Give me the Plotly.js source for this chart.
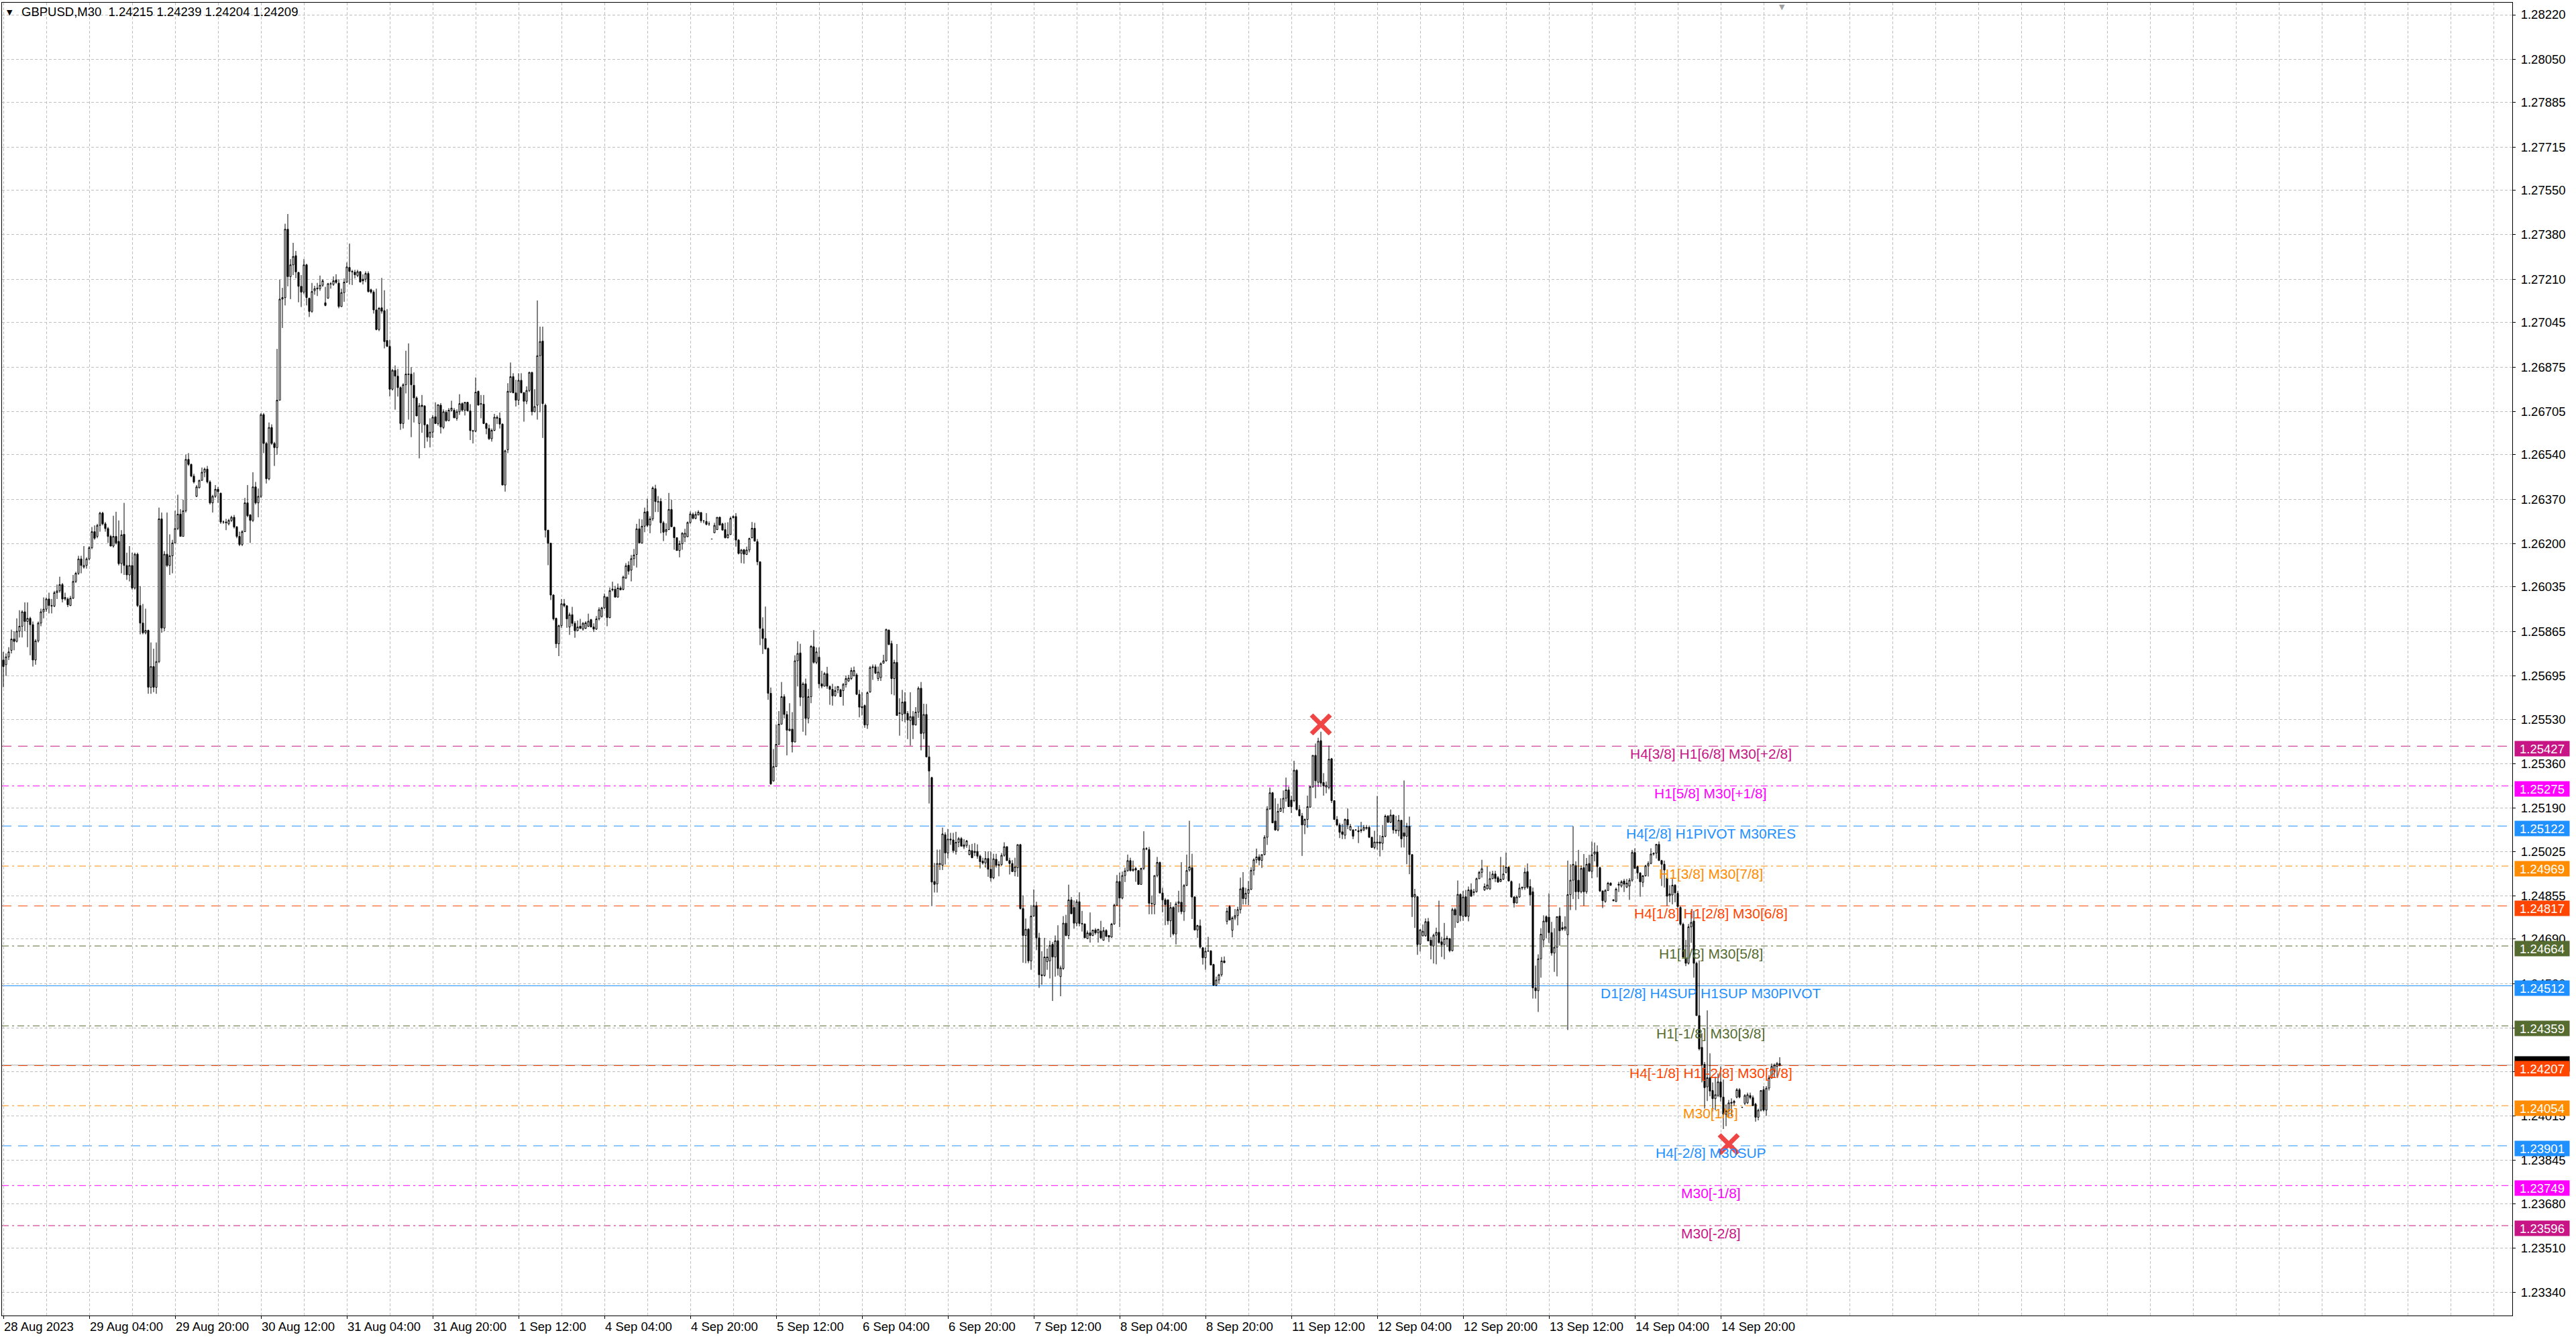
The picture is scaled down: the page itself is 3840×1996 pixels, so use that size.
<!DOCTYPE html>
<html><head><meta charset="utf-8">
<script src="https://cdn.plot.ly/plotly-3.0.1.min.js"></script>
<style>html,body{margin:0;padding:0;background:#fff;overflow:hidden}#chart{width:3840px;height:1996px}</style>
</head><body><div id="chart"></div>
<script>
// ---- DATA (prices in points, 1 point = 0.00001) ----
const symbolTitle = "GBPUSD,M30  1.24215 1.24239 1.24204 1.24209";
const POINT = 0.00001;
const openPts = [
125756,125738,125768,125793,125836,125827,125866,125885,125940,125903,
125915,125891,125756,125829,125897,125940,125950,125989,125964,125962,
126013,126020,126044,125989,125989,125964,125992,126056,126087,126142,
126111,126117,126142,126185,126246,126228,126270,126317,126276,126258,
126228,126191,126228,126209,126124,126236,126117,126081,126117,126031,
126160,125964,125897,125860,125869,125652,125731,125652,125750,126295,
125878,126160,126117,126154,126203,126258,126313,126228,126326,126522,
126503,126458,126381,126414,126442,126473,126485,126436,126356,126381,
126408,126393,126283,126283,126276,126289,126301,126264,126228,126197,
126246,126356,126310,126289,126417,126356,126381,126693,126583,126448,
126644,126583,126567,126748,127134,127140,127401,127220,127265,127300,
127236,127183,127161,127265,127137,127087,127166,127173,127174,127187,
127120,127138,127193,127190,127207,127195,127106,127159,127199,127255,
127240,127237,127224,127239,127210,127210,127232,127170,127161,127093,
127018,127101,127090,126976,126954,126790,126862,126840,126796,126659,
126807,126846,126848,126805,126757,126659,126729,126726,126654,126607,
126626,126685,126659,126729,126644,126702,126670,126710,126710,126679,
126704,126735,126710,126740,126707,126632,126630,126782,126735,126733,
126659,126640,126601,126633,126683,126679,126657,126424,126559,126779,
126838,126776,126748,126824,126777,126744,126785,126854,126704,126729,
126918,126974,126729,126252,126202,126004,125915,125818,125887,125971,
125963,125882,125929,125896,125868,125885,125874,125877,125885,125910,
125882,125874,125913,125922,125955,125996,125918,126027,126026,125996,
126031,126026,126069,126118,126099,126143,126159,126257,126203,126267,
126323,126271,126295,126410,126361,126362,126280,126246,126254,126331,
126263,126223,126174,126200,126225,126227,126281,126312,126297,126310,
126319,126287,126285,126276,126218,126242,126254,126301,126276,126254,
126223,126235,126300,126304,126214,126163,126177,126159,126176,126223,
126259,126208,126131,125875,125838,125800,125629,125294,125349,125434,
125511,125616,125548,125486,125492,125443,125753,125783,125614,125665,
125533,125616,125807,125747,125767,125665,125656,125704,125655,125644,
125620,125642,125642,125639,125662,125676,125685,125696,125699,125625,
125578,125582,125508,125634,125727,125730,125685,125689,125744,125753,
125870,125819,125685,125747,125554,125548,125597,125552,125525,125540,
125508,125557,125648,125477,125548,125386,125307,124910,124901,124975,
124972,125089,125019,125072,125069,125025,125060,125074,125043,125048,
125013,125028,125025,125025,125007,124988,124981,124998,124957,124924,
124995,124975,124975,125010,125043,124990,124979,124948,124963,125051,
124807,124704,124728,124607,124778,124818,124695,124554,124551,124604,
124607,124670,124622,124684,124547,124578,124751,124704,124840,124811,
124751,124833,124750,124748,124692,124714,124704,124725,124714,124721,
124686,124723,124704,124698,124748,124820,124910,124847,124933,124951,
124990,124952,124960,124952,124899,124960,125034,125032,124825,124822,
124933,124983,124866,124840,124840,124760,124811,124710,124827,124831,
124795,124895,124954,124963,124851,124725,124741,124657,124619,124644,
124645,124593,124514,124534,124554,124607,124758,124814,124724,124771,
124780,124803,124887,124845,124865,124880,124953,124993,125004,124991,
125013,125079,125187,125249,125141,125107,125178,125190,125228,125260,
125221,125219,125335,125185,125161,125126,125147,125194,125271,125392,
125289,125448,125288,125271,125269,125379,125219,125147,125126,125100,
125087,125147,125107,125107,125107,125104,125104,125107,125113,125117,
125079,125040,125057,125061,125056,125083,125160,125136,125164,125107,
125104,125144,125096,125083,125121,125013,124851,124852,124671,124703,
124703,124757,124686,124664,124705,124716,124680,124669,124694,124692,
124646,124803,124754,124861,124777,124852,124777,124878,124868,124871,
124921,124945,124878,124882,124882,124921,124939,124925,124910,124919,
124945,124965,124910,124851,124828,124851,124885,124886,124948,124891,
124871,124504,124493,124615,124687,124776,124774,124715,124637,124659,
124778,124734,124729,124707,124860,124915,124971,124915,124871,124963,
124871,124979,124949,125015,125023,124963,124874,124834,124876,124904,
124837,124834,124896,124893,124912,124889,124893,124915,125021,124967,
124943,124907,124932,124970,124979,125015,125018,125052,124990,124976,
124923,124856,124859,124896,124865,124811,124747,124615,124598,124737,
124759,124598,124398,124277,124212,124126,124161,124112,124081,124093,
124145,124087,124021,124034,124063,124065,124087,124115,124048,124063,
124065,124093,124085,124060,124010,124037,124115,124037,124121,124160,
124187,124204,124215];
const highPts = [
125787,125781,125805,125872,125866,125915,125946,125946,125976,125976,
125921,125903,125836,125903,125952,125995,125995,126013,125989,126020,
126044,126074,126050,126013,125995,126001,126081,126093,126154,126154,
126191,126148,126191,126264,126270,126276,126322,126322,126283,126264,
126234,126307,126322,126289,126252,126356,126166,126191,126166,126166,
126166,126038,125970,125952,125872,125823,125799,125823,126338,126319,
126172,126319,126236,126215,126326,126387,126332,126368,126540,126546,
126506,126467,126424,126444,126491,126491,126497,126442,126387,126424,
126417,126395,126289,126295,126295,126307,126310,126268,126246,126252,
126375,126424,126313,126473,126436,126411,126699,126699,126589,126663,
126656,126589,126944,127208,127177,127422,127459,127287,127349,127318,
127238,127226,127287,127269,127140,127196,127185,127196,127224,127210,
127181,127196,127199,127221,127229,127210,127174,127213,127274,127346,
127246,127246,127246,127241,127229,127240,127240,127174,127168,127174,
127104,127215,127168,127096,126979,126868,126881,126868,126801,126813,
126937,126965,126874,126854,126763,126737,126768,126729,126657,126679,
126692,126740,126731,126737,126713,126710,126718,126746,126718,126713,
126771,126740,126740,126742,126733,126635,126835,126785,126768,126768,
126662,126655,126640,126696,126690,126701,126659,126559,126813,126892,
126851,126826,126851,126851,126779,126801,126857,126857,126790,127129,
127029,127029,126735,126252,126204,126007,125918,125891,125989,125989,
125966,125937,125959,125904,125907,125913,125901,125904,125933,125913,
125896,125924,125957,125959,126010,125999,126033,126055,126039,126048,
126039,126078,126126,126133,126157,126180,126276,126295,126293,126338,
126372,126305,126419,126425,126382,126374,126287,126278,126394,126368,
126265,126225,126212,126244,126257,126285,126323,126319,126323,126328,
126321,126291,126317,126285,126219,126280,126301,126304,126280,126280,
126282,126304,126308,126317,126218,126180,126180,126189,126223,126283,
126280,126218,126133,125919,125960,125804,125651,125416,125510,125561,
125672,125625,125561,125591,125557,125774,125827,125818,125672,125685,
125646,125813,125870,125804,125804,125715,125710,125730,125659,125665,
125655,125655,125646,125668,125697,125699,125727,125731,125706,125642,
125634,125586,125636,125733,125739,125739,125731,125747,125776,125875,
125873,125830,125757,125817,125610,125642,125633,125561,125633,125561,
125576,125655,125672,125589,125588,125429,125310,124981,125032,125032,
125116,125098,125111,125096,125096,125100,125080,125080,125072,125069,
125050,125054,125057,125052,125013,125001,125025,125025,125025,125016,
125016,124988,125019,125060,125045,125001,124992,125001,125052,125054,
124857,124769,124732,124820,124880,124833,124714,124644,124695,124654,
124684,124679,124704,124743,124589,124778,124783,124898,124851,124838,
124842,124869,124798,124750,124723,124792,124725,124732,124728,124760,
124736,124728,124706,124752,124825,124935,124944,124948,124963,125013,
125001,124990,124966,124954,124963,125102,125041,125042,124857,124933,
125004,124986,124886,124847,124842,124831,124816,124833,124875,124984,
124900,125013,125142,125016,124854,124745,124765,124660,124658,124699,
124648,124596,124547,124558,124622,124624,124810,124820,124777,124805,
124814,124925,124946,124886,124912,124965,124999,125036,125014,125013,
125087,125198,125269,125252,125228,125207,125228,125258,125307,125272,
125238,125371,125339,125202,125172,125151,125238,125277,125392,125437,
125459,125482,125324,125292,125429,125382,125221,125160,125134,125130,
125151,125189,125130,125110,125109,125121,125138,125126,125126,125124,
125081,125104,125237,125087,125126,125166,125164,125185,125166,125161,
125164,125144,125296,125134,125158,125015,124882,124854,124726,124746,
124769,124771,124699,124711,124734,124837,124699,124752,124703,124694,
124810,124810,124914,124865,124874,124878,124891,124903,124882,124925,
124951,124993,124903,124968,124948,124951,124951,124931,125004,124972,
125021,124968,124914,124854,124857,124903,124891,124963,124979,124919,
124887,124589,124632,124732,124781,124781,124865,124756,124732,124776,
124811,124756,124777,124990,124976,125121,124987,125031,124971,125015,
125000,125012,125063,125059,125048,124967,124876,124881,124909,124907,
124843,124887,124909,124915,124920,124920,124923,125031,125037,124971,
124945,124935,124974,124987,125037,125021,125054,125063,124993,124990,
124926,124896,124920,124900,124874,124815,124753,124687,124748,124798,
124798,124604,124609,124331,124221,124418,124254,124143,124165,124177,
124204,124154,124059,124076,124082,124076,124121,124121,124050,124098,
124104,124104,124093,124065,124043,124112,124129,124129,124171,124215,
124215,124221,124239];
const lowPts = [
125652,125695,125756,125781,125793,125823,125842,125842,125866,125805,
125774,125731,125738,125823,125885,125915,125940,125934,125934,125958,
125989,126013,125976,125983,125958,125962,125989,126050,126081,126087,
126105,126105,126136,126179,126215,126221,126246,126270,126246,126203,
126191,126185,126197,126117,126087,126081,126062,126056,126025,126025,
125958,125854,125854,125854,125627,125627,125633,125627,125744,125860,
125866,126111,126081,126087,126203,126252,126228,126228,126319,126497,
126454,126430,126378,126411,126440,126454,126430,126350,126319,126375,
126356,126276,126276,126252,126270,126283,126258,126221,126191,126191,
126246,126301,126203,126283,126350,126301,126375,126546,126430,126442,
126577,126497,126540,126748,127024,127110,127183,127134,127226,127214,
127122,127104,127153,127110,127066,127082,127151,127146,127166,127181,
127107,127135,127174,127185,127193,127099,127104,127124,127196,127190,
127188,127213,127218,127199,127190,127199,127159,127155,127079,127015,
127012,127079,126946,126951,126762,126785,126712,126762,126635,126640,
126774,126674,126607,126663,126688,126526,126624,126565,126590,126568,
126604,126657,126651,126621,126638,126666,126668,126704,126679,126670,
126692,126704,126690,126707,126596,126583,126626,126729,126679,126657,
126618,126596,126590,126630,126657,126640,126424,126399,126546,126777,
126776,126724,126729,126774,126666,126733,126779,126690,126702,126674,
126702,126604,126224,126118,125985,125907,125802,125771,125879,125957,
125879,125852,125885,125841,125866,125874,125868,125874,125882,125882,
125863,125871,125907,125918,125951,125885,125915,126018,125996,125995,
126022,126022,126065,126082,126056,126116,126109,126201,126201,126244,
126263,126240,126287,126321,126321,126240,126210,126231,126252,126265,
126177,126174,126148,126177,126206,126225,126276,126293,126293,126308,
126280,126278,126270,126268,126217,126240,126252,126270,126252,126220,
126220,126234,126295,126189,126159,126126,126124,126157,126167,126220,
126208,126118,125813,125779,125798,125604,125279,125292,125347,125432,
125510,125533,125392,125484,125403,125441,125655,125580,125482,125468,
125514,125591,125742,125740,125648,125648,125655,125646,125585,125582,
125616,125629,125616,125582,125651,125672,125680,125693,125622,125537,
125544,125497,125493,125631,125680,125702,125676,125676,125742,125750,
125813,125625,125621,125544,125467,125522,125518,125454,125429,125454,
125506,125535,125411,125454,125385,125208,124816,124868,124868,124954,
124954,124975,124999,125050,125019,125013,125041,125045,125034,125039,
125010,124999,125007,124997,124960,124975,124963,124928,124910,124919,
124963,124930,124970,125005,124990,124937,124946,124930,124928,124803,
124600,124598,124598,124573,124776,124648,124504,124516,124547,124573,
124540,124454,124547,124551,124472,124573,124701,124690,124786,124730,
124739,124739,124719,124695,124690,124677,124701,124707,124677,124690,
124684,124697,124679,124695,124745,124818,124736,124842,124908,124948,
124948,124948,124909,124898,124898,124954,125030,124785,124785,124785,
124926,124866,124792,124743,124745,124697,124704,124670,124792,124785,
124760,124893,124948,124767,124723,124695,124654,124593,124573,124642,
124591,124512,124510,124520,124547,124600,124746,124763,124697,124763,
124743,124788,124822,124822,124820,124878,124934,124980,124972,124962,
125010,125050,125185,125134,125104,125102,125177,125172,125215,125195,
125172,125213,125181,125160,125008,125091,125115,125192,125269,125228,
125271,125271,125238,125247,125262,125210,125147,125121,125076,125072,
125072,125110,125104,125072,125104,125057,125096,125102,125108,125076,
125040,125033,125032,125006,125030,125079,125134,125134,125093,125093,
125083,125040,125040,124976,124938,124775,124733,124630,124643,124700,
124699,124683,124613,124597,124594,124673,124622,124613,124660,124640,
124643,124733,124752,124758,124760,124774,124758,124851,124857,124868,
124919,124925,124874,124880,124878,124919,124908,124905,124908,124916,
124942,124912,124848,124811,124827,124848,124878,124878,124882,124818,
124463,124463,124412,124543,124659,124693,124676,124627,124565,124548,
124665,124722,124721,124343,124801,124843,124801,124843,124865,124818,
124863,124949,124923,124987,124926,124870,124809,124829,124874,124893,
124834,124832,124870,124887,124870,124885,124840,124909,124960,124920,
124852,124889,124929,124929,124976,125009,124998,124990,124893,124887,
124818,124831,124823,124831,124809,124742,124620,124587,124593,124676,
124543,124398,124265,124143,124043,124072,124090,124032,124037,124087,
124070,123965,123976,124010,124015,124054,124082,124082,124046,124056,
124060,124078,124054,123993,123998,124032,124032,124015,124112,124157,
124160,124165,124204];
const closePts = [
125731,125768,125787,125836,125827,125866,125885,125940,125903,125915,
125891,125756,125829,125897,125940,125950,125989,125964,125962,126013,
126020,126044,125989,125995,125967,125992,126056,126087,126142,126117,
126117,126142,126185,126246,126221,126270,126317,126276,126258,126228,
126191,126228,126203,126124,126234,126117,126081,126117,126031,126160,
125964,125897,125860,125869,125652,125731,125652,125750,126295,125878,
126160,126117,126154,126203,126258,126313,126228,126326,126522,126503,
126458,126436,126417,126442,126473,126485,126436,126356,126381,126408,
126399,126283,126283,126280,126289,126301,126264,126228,126197,126246,
126356,126307,126289,126417,126356,126381,126693,126583,126448,126644,
126583,126567,126748,127134,127140,127401,127220,127265,127297,127238,
127183,127161,127265,127140,127087,127163,127174,127176,127187,127204,
127110,127193,127192,127204,127198,127106,127159,127199,127257,127240,
127238,127227,127239,127199,127204,127232,127163,127161,127093,127018,
127099,127088,126972,126954,126790,126862,126840,126796,126659,126807,
126848,126848,126807,126757,126688,126727,126724,126654,126607,126626,
126683,126659,126731,126646,126704,126670,126710,126718,126681,126704,
126735,126710,126740,126707,126632,126630,126779,126729,126733,126659,
126640,126601,126633,126683,126679,126657,126424,126555,126782,126838,
126776,126748,126824,126777,126744,126785,126854,126704,126724,126918,
126972,126735,126252,126202,126004,125913,125818,125887,125971,125963,
125913,125929,125896,125868,125882,125877,125896,125898,125904,125882,
125874,125913,125948,125955,125999,125918,126021,126024,125996,126031,
126024,126073,126116,126095,126143,126157,126257,126203,126267,126321,
126270,126295,126413,126361,126359,126280,126244,126254,126331,126265,
126223,126174,126200,126240,126240,126281,126314,126297,126312,126321,
126288,126287,126274,126276,126218,126270,126301,126271,126252,126223,
126235,126297,126304,126214,126163,126176,126160,126176,126220,126259,
126210,126131,125877,125838,125798,125629,125283,125349,125434,125511,
125616,125548,125488,125492,125443,125753,125781,125614,125665,125533,
125616,125808,125747,125787,125665,125656,125704,125656,125644,125619,
125639,125655,125616,125663,125685,125687,125716,125716,125625,125576,
125574,125508,125631,125727,125730,125706,125710,125742,125753,125873,
125815,125685,125747,125544,125552,125595,125551,125527,125540,125508,
125557,125648,125475,125548,125386,125332,124908,124899,124979,124979,
125092,125019,125072,125069,125028,125060,125074,125045,125050,125065,
125030,125001,125021,125007,124986,124981,124998,124957,124924,124997,
124972,124972,125010,125043,124990,124979,124948,124966,125051,124807,
124704,124728,124607,124778,124818,124695,124554,124551,124622,124622,
124666,124622,124684,124578,124580,124751,124704,124840,124787,124751,
124833,124750,124748,124695,124714,124704,124725,124714,124728,124695,
124723,124701,124698,124748,124820,124910,124847,124933,124951,124990,
124952,124957,124954,124899,124960,125036,125036,124827,124827,124933,
124983,124866,124840,124822,124760,124811,124710,124825,124833,124795,
124895,124952,124966,124851,124725,124742,124660,124619,124644,124645,
124591,124514,124534,124554,124607,124600,124797,124763,124771,124780,
124803,124882,124845,124865,124880,124953,124993,125004,124991,125013,
125079,125187,125249,125134,125107,125178,125190,125228,125260,125196,
125196,125335,125185,125161,125126,125147,125196,125272,125392,125295,
125446,125286,125275,125277,125377,125219,125147,125126,125098,125090,
125147,125126,125121,125083,125107,125100,125108,125117,125117,125079,
125040,125061,125061,125056,125083,125160,125136,125164,125107,125104,
125144,125073,125083,125121,125013,124851,124861,124669,124726,124720,
124757,124683,124666,124705,124716,124677,124669,124692,124690,124646,
124803,124782,124861,124780,124851,124777,124878,124854,124871,124921,
124945,124959,124891,124897,124921,124939,124922,124908,124919,124939,
124965,124912,124851,124828,124851,124885,124888,124946,124888,124859,
124504,124493,124615,124709,124759,124756,124715,124637,124659,124776,
124722,124728,124737,124860,124915,124976,124871,124871,124960,124871,
124976,124949,125012,125023,124967,124874,124837,124876,124904,124896,
124840,124881,124900,124909,124900,124904,124915,125021,124960,124943,
124909,124932,124970,124979,125015,125018,125052,124990,124976,124954,
124854,124863,124896,124867,124815,124747,124621,124598,124737,124754,
124598,124398,124271,124210,124123,124161,124110,124081,124096,124145,
124087,124021,124034,124065,124067,124071,124115,124087,124048,124093,
124096,124085,124054,124010,124037,124112,124037,124121,124160,124204,
124209,124215,124209];

const xTickBars = [0,32,64,96,128,160,192,224,256,288,320,352,384,416,448,480,512,544,576,608,640];
const xTickLabels = ["28 Aug 2023","29 Aug 04:00","29 Aug 20:00","30 Aug 12:00","31 Aug 04:00","31 Aug 20:00","1 Sep 12:00","4 Sep 04:00","4 Sep 20:00","5 Sep 12:00","6 Sep 04:00","6 Sep 20:00","7 Sep 12:00","8 Sep 04:00","8 Sep 20:00","11 Sep 12:00","12 Sep 04:00","12 Sep 20:00","13 Sep 12:00","14 Sep 04:00","14 Sep 20:00"];
const yTickValues = [1.28220,1.28050,1.27885,1.27715,1.27550,1.27380,1.27210,1.27045,1.26875,1.26705,1.26540,1.26370,1.26200,1.26035,1.25865,1.25695,1.25530,1.25360,1.25190,1.25025,1.24855,1.24690,1.24520,1.24350,1.24185,1.24015,1.23845,1.23680,1.23510,1.23340];

const levelPrices = [1.25427,1.25275,1.25122,1.24969,1.24817,1.24664,1.24512,1.24359,1.24207,1.24054,1.23901,1.23749,1.23596];
const levelLabels = ["H4[3/8] H1[6/8] M30[+2/8]","H1[5/8] M30[+1/8]","H4[2/8] H1PIVOT M30RES","H1[3/8] M30[7/8]","H4[1/8] H1[2/8] M30[6/8]","H1[1/8] M30[5/8]","D1[2/8] H4SUP H1SUP M30PIVOT","H1[-1/8] M30[3/8]","H4[-1/8] H1[-2/8] M30[2/8]","M30[1/8]","H4[-2/8] M30SUP","M30[-1/8]","M30[-2/8]"];
const bidPrice = 1.24209;
const signalBars = [491, 643];
const signalPrices = [1.25510, 1.23907];

// ---- STYLE ----
const levelColors = ["#C71585","#FF00FF","#1E90FF","#FF8C00","#FF4500","#556B2F","#1E90FF","#556B2F","#FF4500","#FF8C00","#1E90FF","#FF00FF","#C71585"];
const DASH = "14px,10px", DASHDOT = "10px,5px,3px,5px";
const levelDash = [DASH,DASHDOT,DASH,DASHDOT,DASH,DASHDOT,"solid",DASHDOT,DASH,DASHDOT,DASH,DASHDOT,DASHDOT];
const FONT = "Liberation Sans, Arial, sans-serif";
const GRID = "#C0C0C0", GRIDDASH = "4px,3px";
const LABEL_BAR = 636.25;

const n = Math.min(openPts.length, highPts.length, lowPts.length, closePts.length);
const xs = [], o = [], h = [], l = [], c = [];
for (let i = 0; i < n; i++) {
  xs.push(i); o.push(openPts[i]*POINT); h.push(highPts[i]*POINT); l.push(lowPts[i]*POINT); c.push(closePts[i]*POINT);
}

const traces = [
  {type:'candlestick', x:xs, open:o, high:h, low:l, close:c, whiskerwidth:0,
   increasing:{line:{color:'#000',width:1}, fillcolor:'#FFFFFF'},
   decreasing:{line:{color:'#000',width:1}, fillcolor:'#000000'},
   hoverinfo:'skip', showlegend:false},
  {type:'scatter', mode:'markers', x:signalBars, y:signalPrices, showlegend:false, hoverinfo:'skip',
   marker:{symbol:'x-thin', size:28, color:'#F04545', line:{width:7, color:'#F04545'}}}
];

const shapes = [];
const annotations = [];
shapes.push({type:'line', xref:'paper', x0:0, x1:1, yref:'y', y0:bidPrice, y1:bidPrice, layer:'between',
             line:{color:'#A9A9A9', width:1}});
levelPrices.forEach((p, k) => {
  shapes.push({type:'line', xref:'paper', x0:0, x1:1, yref:'y', y0:p, y1:p, layer:'between',
               line:{color:levelColors[k], width:1, dash:levelDash[k]}});
  annotations.push({xref:'x', x:LABEL_BAR, yref:'y', y:p, yanchor:'middle', xanchor:'center', yshift:-11,
               text:levelLabels[k], showarrow:false, font:{family:FONT, size:21, color:levelColors[k]}});
});
// current price marker (black strip, mostly covered) then level price boxes
annotations.push({xref:'paper', x:1, xanchor:'left', xshift:3, yref:'y', y:bidPrice, yanchor:'middle', yshift:2,
  text:'&nbsp;', showarrow:false, bgcolor:'#000', width:81, height:22, borderpad:0,
  font:{family:FONT, size:18.5, color:'#000'}});
levelPrices.forEach((p, k) => {
  annotations.push({xref:'paper', x:1, xanchor:'left', xshift:3, yref:'y', y:p, yanchor:'middle', yshift:-4,
    text:p.toFixed(5), showarrow:false, bgcolor:levelColors[k], width:81, height:22, borderpad:0,
    font:{family:FONT, size:18.5, color:'#fff'}});
});
annotations.push({xref:'paper', x:0, xanchor:'center', xshift:11, yref:'paper', y:1, yanchor:'middle', yshift:-14,
  text:'▼', showarrow:false, font:{family:'DejaVu Sans', size:11, color:'#000'}});
annotations.push({xref:'paper', x:0.7092, xanchor:'center', yref:'paper', y:1, yanchor:'top', yshift:2,
  text:'▼', showarrow:false, font:{family:'DejaVu Sans', size:11, color:'#A0A0A0'}});

const layout = {
  width:3840, height:1996,
  margin:{l:3, r:95, t:4, b:35, pad:0},
  paper_bgcolor:'#FFFFFF', plot_bgcolor:'#FFFFFF',
  showlegend:false, boxgap:0.25,
  title:{text:symbolTitle, xref:'container', x:32/3840, xanchor:'left', yref:'container', y:1-18/1996, yanchor:'middle',
         font:{family:FONT, size:18.5, color:'#000'}},
  xaxis:{type:'linear', range:[-0.5, 935], rangeslider:{visible:false},
    tickmode:'array', tickvals:xTickBars, ticktext:xTickLabels, ticklabelposition:'outside right', tickangle:0,
    ticks:'outside', ticklen:4, tickcolor:'#000', tickwidth:1,
    tickfont:{family:FONT, size:18.5, color:'#000'},
    showgrid:true, gridcolor:GRID, griddash:GRIDDASH, gridwidth:1,
    minor:{tick0:0, dtick:16, showgrid:true, gridcolor:GRID, griddash:GRIDDASH, gridwidth:1, ticks:''},
    showline:true, linecolor:'#000', linewidth:1, mirror:true, zeroline:false, fixedrange:true},
  yaxis:{side:'right', range:[1.232528, 1.282661],
    tickmode:'array', tickvals:yTickValues, ticktext:yTickValues.map(v => v.toFixed(5)),
    ticks:'outside', ticklen:4, tickcolor:'#000', ticklabelstandoff:4,
    tickfont:{family:FONT, size:18.5, color:'#000'},
    showgrid:true, gridcolor:GRID, griddash:GRIDDASH, gridwidth:1,
    showline:true, linecolor:'#000', linewidth:1, mirror:true, zeroline:false, fixedrange:true},
  shapes:shapes, annotations:annotations
};

Plotly.newPlot('chart', traces, layout, {staticPlot:true, displayModeBar:false});
</script></body></html>
